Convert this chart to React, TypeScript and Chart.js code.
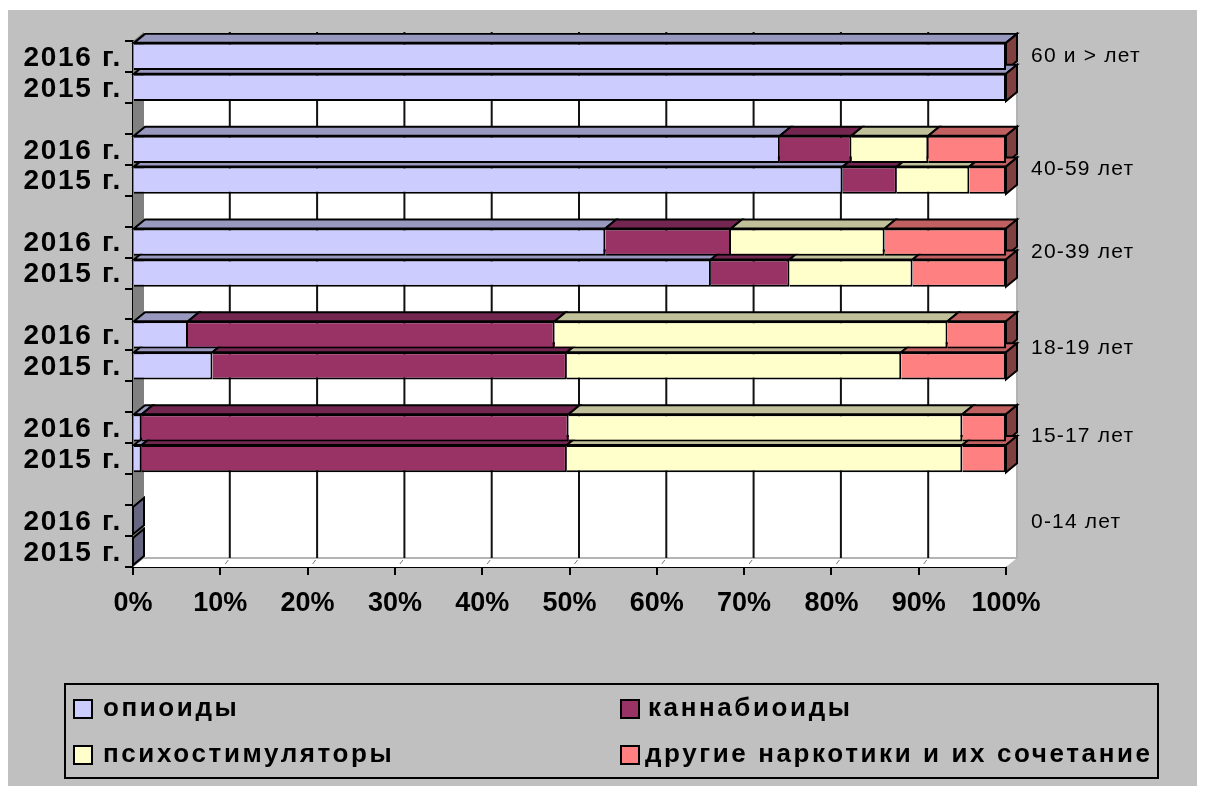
import React, { useEffect, useRef } from "react";
import { Chart, registerables } from "chart.js";

Chart.register(...registerables);

const rowLabels = [
  "2016 г.", "2015 г.", "",
  "2016 г.", "2015 г.", "",
  "2016 г.", "2015 г.", "",
  "2016 г.", "2015 г.", "",
  "2016 г.", "2015 г.", "",
  "2016 г.", "2015 г.",
];
const opioids = [100, 100, null, 74.1, 81.3, null, 54.1, 66.2, null, 6.3, 9.1, null, 1, 1, null, 0, 0];
const cannabinoids = [0, 0, null, 8.2, 6.2, null, 14.4, 9, null, 42, 40.6, null, 48.9, 48.7, null, 0, 0];
const stimulants = [0, 0, null, 8.8, 8.3, null, 17.6, 14.1, null, 45, 38.3, null, 45.1, 45.3, null, 0, 0];
const others = [0, 0, null, 8.9, 4.2, null, 13.9, 10.7, null, 6.7, 12, null, 5, 5, null, 0, 0];

const ageLabels = ["60 и > лет", "40-59 лет", "20-39 лет", "18-19 лет", "15-17 лет", "0-14 лет"];
const ageLabelRows = [0.45, 4.08, 6.78, 9.88, 12.72, 15.5];

const seriesNames = ["опиоиды", "каннабиоиды", "психостимуляторы", "другие наркотики и их сочетание"];
const seriesColors = ["#CCCCFF", "#993366", "#FFFFCC", "#FF8080"];
const topColors = ["#9999C0", "#732650", "#C0C09A", "#C06060"];
const sideColors = ["#666680", "#4D1A33", "#808066", "#804040"];

const DX = 11;
const DY = 9;

const poly = (ctx: CanvasRenderingContext2D, pts: number[][], fill: string, stroke = "#000", lw = 2) => {
  ctx.beginPath();
  pts.forEach((p, i) => (i ? ctx.lineTo(p[0], p[1]) : ctx.moveTo(p[0], p[1])));
  ctx.closePath();
  ctx.fillStyle = fill;
  ctx.fill();
  if (lw) {
    ctx.strokeStyle = stroke;
    ctx.lineWidth = lw;
    ctx.stroke();
  }
};

// Adds letter spacing (and a small vertical nudge) to one axis' tick labels.
const spacedLabels = (spacing: string, nudge: number) => (s: any) => {
  if (s.__spaced) return;
  s.__spaced = true;
  const draw = s.drawLabels;
  s.drawLabels = function (area: any) {
    const ctx = this.ctx;
    ctx.save();
    ctx.letterSpacing = spacing;
    ctx.translate(0, nudge);
    draw.call(this, area);
    ctx.restore();
  };
};

const scenePlugin = {
  id: "scene",
  beforeDraw(chart: any) {
    const ctx: CanvasRenderingContext2D = chart.ctx;
    ctx.save();
    ctx.fillStyle = "#fff";
    ctx.fillRect(0, 0, chart.width, chart.height);
    ctx.fillStyle = "#C0C0C0";
    ctx.fillRect(8, 10, 1189, 776);
    ctx.restore();
  },
  beforeDatasetsDraw(chart: any) {
    const ctx: CanvasRenderingContext2D = chart.ctx;
    const { left, right, top, bottom } = chart.chartArea;
    const x = chart.scales.x;
    ctx.save();
    // back wall, floor, side wall
    poly(ctx, [[left + DX, top - DY], [right + DX, top - DY], [right + DX, bottom - DY], [left + DX, bottom - DY]], "#fff", "#000", 0);
    poly(ctx, [[left, bottom], [left + DX, bottom - DY], [right + DX, bottom - DY], [right, bottom]], "#fff", "#000", 0);
    poly(ctx, [[left, top], [left + DX, top - DY], [left + DX, bottom - DY], [left, bottom]], "#808080", "#000", 0);
    ctx.strokeStyle = "#B4B4B4";
    ctx.lineWidth = 2;
    ctx.beginPath();
    ctx.moveTo(left + DX, bottom - DY);
    ctx.lineTo(right + DX, bottom - DY);
    ctx.lineTo(right + DX, top - DY);
    ctx.stroke();
    // gridlines on the wall and a faint stub on the floor
    x.ticks.forEach((t: any) => {
      if (t.value === 0 || t.value === 100) return;
      const px = x.getPixelForValue(t.value);
      ctx.strokeStyle = "#111";
      ctx.lineWidth = 2;
      ctx.beginPath();
      ctx.moveTo(px + DX - 1.5, top - DY);
      ctx.lineTo(px + DX - 1.5, bottom - DY);
      ctx.stroke();
      ctx.strokeStyle = "#777";
      ctx.lineWidth = 1;
      ctx.beginPath();
      ctx.moveTo(px + DX - 3, bottom - DY + 2);
      ctx.lineTo(px + DX - 6, bottom - DY + 6);
      ctx.stroke();
    });
    // bar depth faces, upper rows first
    const metas = chart.data.datasets.map((_: any, i: number) => chart.getDatasetMeta(i));
    rowLabels.forEach((_, i) => {
      if (chart.data.datasets[0].data[i] == null) return;
      let total = 0;
      metas.forEach((m: any, d: number) => {
        const v = chart.data.datasets[d].data[i];
        total += v;
        const el = m.data[i];
        const t = el.y - el.height / 2;
        if (v > 0) {
          poly(ctx, [[el.base, t], [el.base + DX, t - DY], [el.x + DX, t - DY], [el.x, t]], topColors[d]);
        }
      });
      const last = metas[metas.length - 1].data[i];
      const t = last.y - last.height / 2;
      const b = last.y + last.height / 2;
      const colour = total > 0 ? sideColors[3] : sideColors[0];
      poly(ctx, [[last.x, t], [last.x + DX, t - DY], [last.x + DX, b - DY], [last.x, b]], colour);
    });
    ctx.restore();
  },
  afterDraw(chart: any) {
    const ctx: CanvasRenderingContext2D = chart.ctx;
    ctx.save();
    ctx.strokeStyle = "#000";
    ctx.lineWidth = 2;
    ctx.strokeRect(65, 684, 1093, 94);
    const cells = [
      [74, 709, 103],
      [621, 709, 648],
      [74, 755, 103],
      [621, 755, 645],
    ];
    ctx.font = 'bold 26px "Liberation Sans"';
    ctx.textBaseline = "middle";
    ctx.textAlign = "left";
    (ctx as any).letterSpacing = "2.6px";
    chart.data.datasets.forEach((ds: any, i: number) => {
      const [sx, cy, tx] = cells[i];
      ctx.fillStyle = ds.backgroundColor;
      ctx.fillRect(sx, cy - 9, 18, 18);
      ctx.strokeStyle = "#000";
      ctx.strokeRect(sx, cy - 9, 18, 18);
      ctx.fillStyle = "#000";
      ctx.fillText(ds.label, tx, cy);
    });
    ctx.restore();
  },
};

export default function App() {
  const ref = useRef<HTMLCanvasElement>(null);
  useEffect(() => {
    const series = [opioids, cannabinoids, stimulants, others];
    const chart = new Chart(ref.current as HTMLCanvasElement, {
      type: "bar",
      data: {
        labels: rowLabels,
        datasets: series.map((data, i) => ({
          label: seriesNames[i],
          data,
          backgroundColor: seriesColors[i],
          borderColor: "#000",
          borderWidth: 2,
          barPercentage: 0.88,
          categoryPercentage: 1,
        })),
      },
      options: {
        indexAxis: "y",
        responsive: false,
        animation: false,
        layout: { padding: { top: 41 } },
        plugins: { legend: { display: false }, tooltip: { enabled: false } },
        scales: {
          x: {
            type: "linear",
            stacked: true,
            min: 0,
            max: 100,
            ticks: {
              stepSize: 10,
              callback: (v: any) => `${v}%`,
              maxRotation: 0,
              autoSkip: false,
              color: "#000",
              padding: 12,
              font: { family: "Liberation Sans", size: 27, weight: "bold" },
            },
            grid: { drawOnChartArea: false, tickLength: 8, color: "#000", lineWidth: 2 },
            border: { color: "#000", width: 2 },
            afterFit: (s: any) => { s.height = 224; },
          },
          y: {
            type: "category",
            stacked: true,
            offset: true,
            ticks: {
              autoSkip: false,
              color: "#000",
              padding: 3,
              font: { family: "Liberation Sans", size: 28, weight: "bold" },
            },
            grid: { offset: true, drawOnChartArea: false, tickLength: 8, color: "#000", lineWidth: 2 },
            border: { color: "#000", width: 2 },
            afterFit: (s: any) => { s.width = 133; spacedLabels("1.7px", 1.5)(s); },
          },
          y2: {
            type: "linear",
            position: "right",
            offset: false,
            reverse: true,
            min: 0,
            max: 17,
            afterBuildTicks: (s: any) => { s.ticks = ageLabelRows.map((value) => ({ value })); },
            ticks: {
              autoSkip: false,
              callback: (_: any, i: number) => ageLabels[i],
              color: "#000",
              padding: 25,
              font: { family: "Liberation Sans", size: 21 },
            },
            grid: { display: false, drawTicks: false },
            border: { display: false },
            afterFit: (s: any) => { s.width = 201; spacedLabels("1.2px", 1.5)(s); },
          },
        },
      },
      plugins: [scenePlugin],
    } as any);
    return () => chart.destroy();
  }, []);
  return (
    <canvas
      ref={ref}
      width={1207}
      height={791}
      style={{ position: "fixed", left: 0, top: 0, display: "block", filter: "blur(0.6px)" }}
    />
  );
}
